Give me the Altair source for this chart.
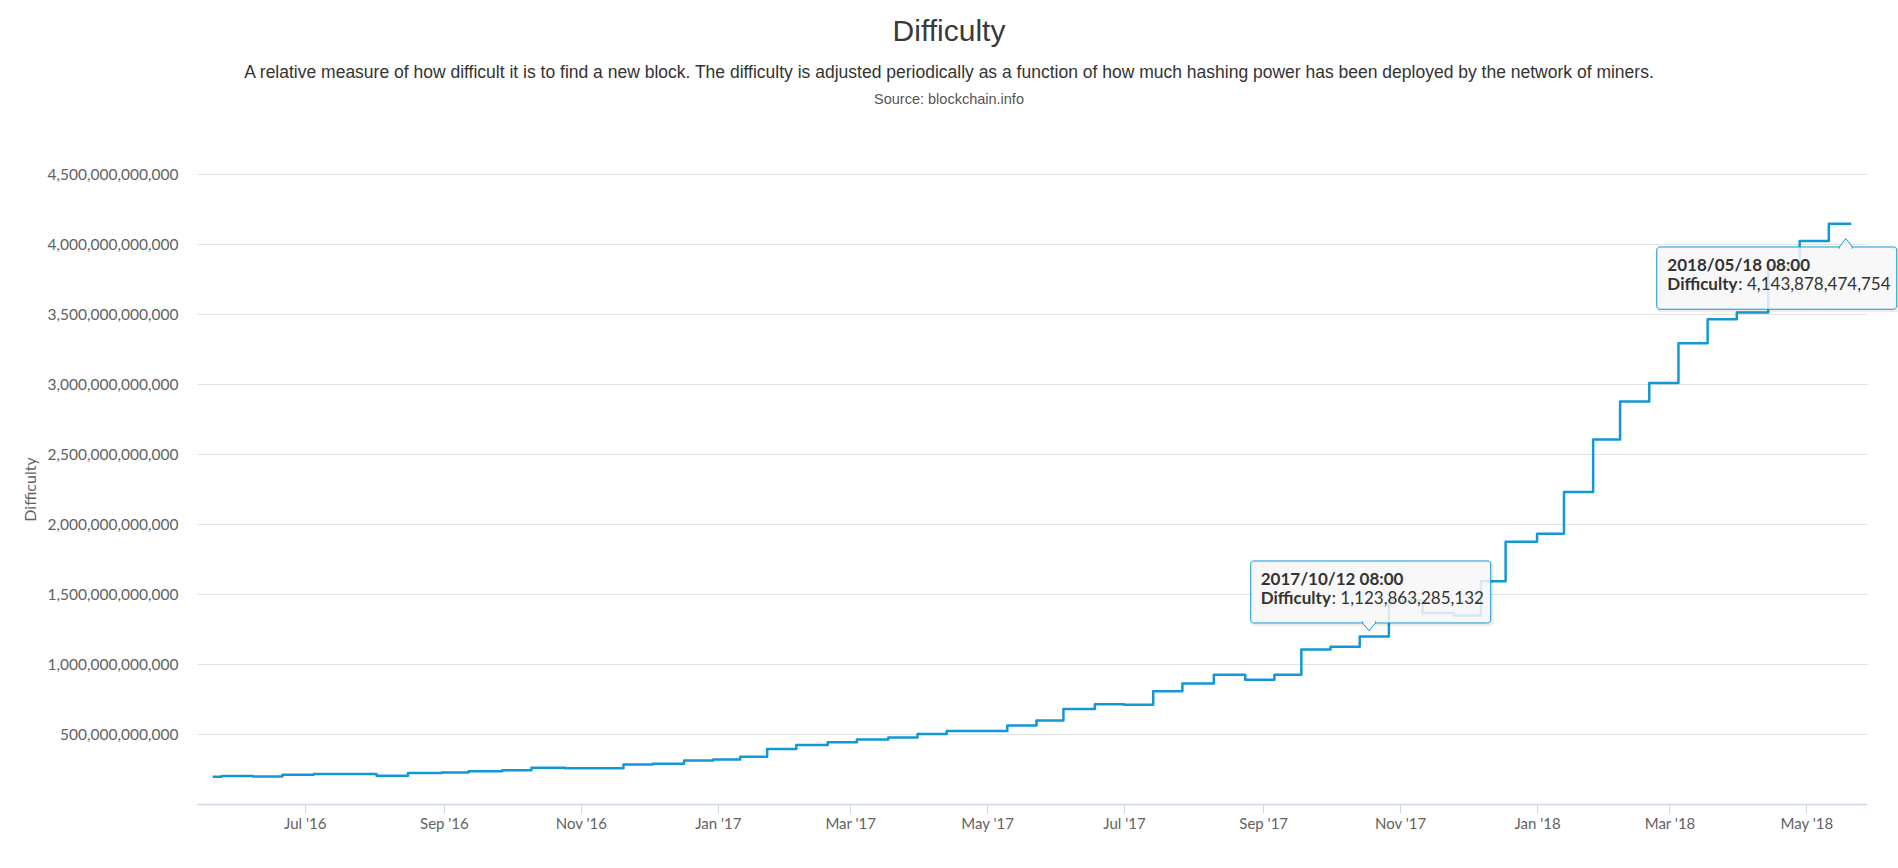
import altair as alt
import pandas as pd

# ---------------- data ----------------
step_dates = [
    "2016-05-21", "2016-05-25", "2016-06-08", "2016-06-21", "2016-07-05",
    "2016-08-02", "2016-08-16", "2016-08-31", "2016-09-12", "2016-09-27",
    "2016-10-10", "2016-10-25", "2016-11-20", "2016-12-03", "2016-12-17",
    "2016-12-30", "2017-01-11", "2017-01-23", "2017-02-05", "2017-02-19",
    "2017-03-04", "2017-03-18", "2017-03-31", "2017-04-13", "2017-05-10",
    "2017-05-23", "2017-06-04", "2017-06-18", "2017-07-01", "2017-07-14",
    "2017-07-27", "2017-08-10", "2017-08-24", "2017-09-06", "2017-09-18",
    "2017-10-01", "2017-10-14", "2017-10-27", "2017-11-11", "2017-11-25",
    "2017-12-07", "2017-12-18", "2018-01-01", "2018-01-13", "2018-01-26",
    "2018-02-07", "2018-02-20", "2018-03-05", "2018-03-18", "2018-03-31",
    "2018-04-14", "2018-04-28", "2018-05-11",
]
step_values = [
    194254820283, 199312067531, 196061423940, 209453158595, 213398925331,
    201893210853, 220755908330, 225832872179, 233400000000, 241200000000,
    259000000000, 254620187304, 281800917193, 286765766821, 310153855703,
    317688400354, 336899932796, 392963262344, 422170566883, 440779902287,
    460769358091, 475705205105, 499635873123, 521974519554, 559970892890,
    595921917085, 678760110082, 711697198174, 708659466230, 804525194568,
    860221984436, 923233068449, 888171856257, 922724699725, 1103400932964,
    1123863285132, 1196792694099, 1452839779145, 1364422081125, 1347001430559,
    1590896927258, 1873105475221, 1931136454487, 2227847638503, 2603077300218,
    2874674234415, 3007383866429, 3290605988755, 3462542391191, 3511060552899,
    3839316899029, 4022059196164, 4143878474754,
]
last_date = "2018-05-21"

x_domain = ["2016-05-14", "2018-05-28"]
x_tick_dates = [
    "2016-07-01", "2016-09-01", "2016-11-01", "2017-01-01", "2017-03-01",
    "2017-05-01", "2017-07-01", "2017-09-01", "2017-11-01", "2018-01-01",
    "2018-03-01", "2018-05-01",
]
y_ticks = [500e9, 1000e9, 1500e9, 2000e9, 2500e9, 3000e9, 3500e9, 4000e9, 4500e9]
y_max = 4500e9

tip_dates = ["2017-10-12", "2018-05-18"]
tip_values = [1123863285132, 4143878474754]
tip_labels = ["2017/10/12 08:00", "2018/05/18 08:00"]

title_text = "Difficulty"
subtitle_text = ("A relative measure of how difficult it is to find a new block. "
                 "The difficulty is adjusted periodically as a function of how much "
                 "hashing power has been deployed by the network of miners.")
source_text = "Source: blockchain.info"

# ---------------- styling ----------------
BLUE = "#1398d5"
AXIS_FONT = "Lato"
TITLE_FONT = "Liberation Sans"
LABEL_COLOR = "#626262"
TIP_SIZE = 17

def ms(s):
    return int(pd.Timestamp(s, tz="UTC").value // 10**6)

df = pd.DataFrame({
    "date": step_dates + [last_date],
    "difficulty": step_values + [step_values[-1]],
})

x_scale = alt.Scale(type="utc", domain=[ms(d) for d in x_domain], nice=False)
y_scale = alt.Scale(domain=[0, y_max], nice=False, zero=True)

x_axis = alt.Axis(
    values=[ms(d) for d in x_tick_dates],
    labelExpr="utcFormat(datum.value, \"%b '%y\")",
    grid=False,
    domainColor="#ccd6eb", domainWidth=1.5,
    tickColor="#ccd6eb", tickSize=9, tickWidth=1,
    labelFont=AXIS_FONT, labelFontSize=15, labelColor=LABEL_COLOR,
    labelPadding=3, labelOverlap=False, labelFlush=False,
)
y_axis = alt.Axis(
    values=y_ticks, format=",.0f",
    grid=True, gridColor="#e3e3e3", gridWidth=1,
    domain=False, ticks=False, tickSize=0,
    labelFont=AXIS_FONT, labelFontSize=15.5, labelColor=LABEL_COLOR,
    labelPadding=19, labelOverlap=False,
    titleFont=AXIS_FONT, titleFontSize=16, titleColor=LABEL_COLOR,
    titleFontWeight="normal", titleX=-167, titleY=315,
    titleAngle=270, titleAlign="center", titleBaseline="middle",
)

line = alt.Chart(df).mark_line(
    interpolate="step-after", color=BLUE, strokeWidth=2.5, strokeJoin="round"
).encode(
    x=alt.X("date:T", scale=x_scale, axis=x_axis, title=None),
    y=alt.Y("difficulty:Q", scale=y_scale, axis=y_axis, title="Difficulty"),
)

tip_df = pd.DataFrame({"date": tip_dates, "value": tip_values, "label": tip_labels})


def tooltip_layers(i, box, text_dx, base1, base2, colon_dx, ptr, ptr_path):
    d = tip_df.iloc[[i]].reset_index(drop=True)
    base = alt.Chart(d).transform_calculate(
        vtxt="': ' + format(datum.value, ',.0f')"
    ).encode(x="date:T", y="value:Q")
    x0, x1, y0, y1 = box
    shadow = base.mark_rect(
        fill="#ffffff", fillOpacity=0, stroke="#000000", strokeOpacity=0.07,
        strokeWidth=3, cornerRadius=3,
        xOffset=x0 + 1.5, x2Offset=x1 + 1.5, yOffset=y0 + 1.5, y2Offset=y1 + 1.5,
    ).encode(x2="date:T", y2="value:Q")
    rect = base.mark_rect(
        fill="#f7f7f7", fillOpacity=0.85, stroke=BLUE, strokeWidth=1,
        cornerRadius=3, xOffset=x0, x2Offset=x1, yOffset=y0, y2Offset=y1,
    ).encode(x2="date:T", y2="value:Q")
    pointer = base.mark_point(
        shape=ptr_path, size=169, filled=True, fill="#f7f7f7", fillOpacity=1,
        stroke=BLUE, strokeWidth=1, opacity=1, xOffset=ptr[0], yOffset=ptr[1],
    )
    t1 = base.mark_text(
        align="left", baseline="alphabetic", dx=text_dx, dy=base1,
        font=AXIS_FONT, fontSize=TIP_SIZE, fontWeight="bold", color="#333333",
    ).encode(text="label:N")
    t2a = base.mark_text(
        align="left", baseline="alphabetic", dx=text_dx, dy=base2,
        font=AXIS_FONT, fontSize=TIP_SIZE, fontWeight="bold", color="#333333",
    ).encode(text=alt.value("Difficulty"))
    t2b = base.mark_text(
        align="left", baseline="alphabetic", dx=text_dx + colon_dx, dy=base2,
        font=AXIS_FONT, fontSize=TIP_SIZE, fontWeight="normal", color="#333333",
    ).encode(text="vtxt:N")
    return [shadow, rect, pointer, t1, t2a, t2b]


down_ptr = "M-1,-0.25L-1,0L0,1.2L1,0L1,-0.25"
up_ptr = "M-1,0.25L-1,0L0,-1.3L1,0L1,0.25"

tip1 = tooltip_layers(0, (-104.5, 135.5, -85.7, -23.7), -94.5, -61.4, -42.4, 71,
                      (13.8, -23.7), down_ptr)
tip2 = tooltip_layers(1, (-187.8, 52.2, 23.1, 85.4), -177.2, 47.1, 66.4, 71,
                      (1.2, 23.1), up_ptr)

source = alt.Chart(pd.DataFrame({"t": [source_text]})).mark_text(
    font=TITLE_FONT, fontSize=14.5, color="#555555", align="center",
    baseline="alphabetic",
).encode(text="t:N", x=alt.value(752), y=alt.value(-69.7))

chart = alt.layer(line, *tip1, *tip2, source).properties(
    width=1670,
    height=630,
    padding={"left": 197, "top": 174, "right": 31, "bottom": 64},
    autosize=alt.AutoSizeParams(type="none"),
    background="#ffffff",
    title=alt.TitleParams(
        text=title_text,
        subtitle=subtitle_text,
        anchor="middle",
        frame="group",
        dx=-83,
        offset=11,
        font=TITLE_FONT,
        fontSize=30,
        fontWeight="normal",
        color="#3a3a3a",
        subtitleFont=TITLE_FONT,
        subtitleFontSize=17.5,
        subtitleColor="#333333",
        subtitlePadding=16.5,
    ),
).configure_view(stroke=None)

chart.save("out.html", embed_options={"renderer": "svg", "actions": False})
